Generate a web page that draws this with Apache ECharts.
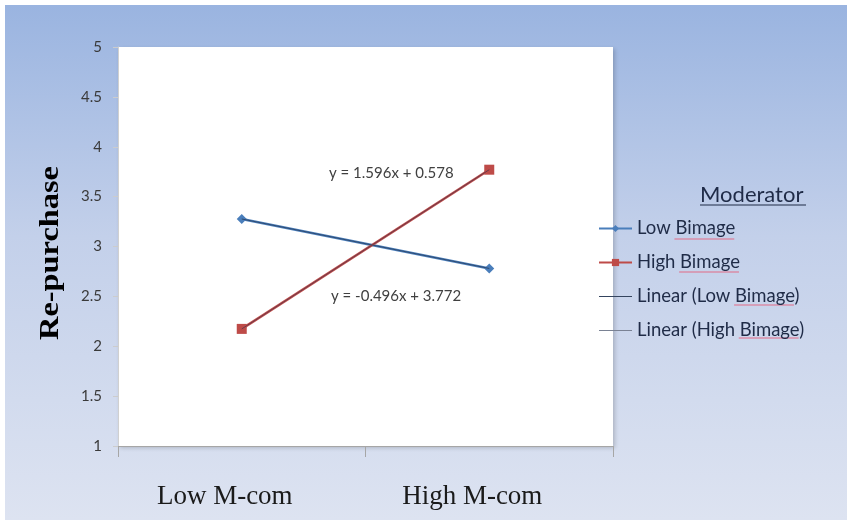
<!DOCTYPE html>
<html>
<head>
<meta charset="utf-8">
<script src="https://cdn.jsdelivr.net/npm/echarts@6/dist/echarts.min.js"></script>
<style>
  html, body { margin: 0; padding: 0; background: #fff; }
  #chart {
    width: 847px; height: 524px;
    background: linear-gradient(#9ab4e0, #c3d0ea 45%, #dde3f1) 5px 5px / 842px 515px no-repeat, #fff;
  }
</style>
</head>
<body>
<div id="chart"></div>
<script>
// Interaction plot: Re-purchase by M-com level, moderated by Bimage
const categories = ['Low M-com', 'High M-com'];
const lowBimage = [3.276, 2.78];
const highBimage = [2.174, 3.77];
// Fitted linear trends (slope, intercept) and their endpoint values
const lowTrendCoef = [-0.496, 3.772];
const highTrendCoef = [1.596, 0.578];
const lowTrend = [3.276, 2.78];
const highTrend = [2.174, 3.77];
const yTicks = [1, 1.5, 2, 2.5, 3, 3.5, 4, 4.5, 5];
const legendNames = ['Low Bimage', 'High Bimage', 'Linear (Low Bimage)', 'Linear (High Bimage)'];

function eqText(c) {
  const sign = c[1] < 0 ? ' - ' : ' + ';
  return 'y = ' + c[0] + 'x' + sign + Math.abs(c[1]);
}

const chart = echarts.init(document.getElementById('chart'));
const labelFont = 'Lato, "Open Sans", sans-serif';
const serifFont = '"Liberation Serif", "Times New Roman", serif';

// Measure legend text so the spell-check style underlines sit under "Bimage"
const ctx = document.createElement('canvas').getContext('2d');
ctx.font = '18.5px Lato';
const legendLeft = 598, legendTextX = 636, legendTop = 219, rowStep = 33;
const squiggles = legendNames.map((name, i) => {
  const idx = name.indexOf('Bimage');
  const x1 = legendTextX + ctx.measureText(name.slice(0, idx)).width;
  const x2 = x1 + ctx.measureText('Bimage').width;
  const y = legendTop + i * rowStep + 20;
  return {
    type: 'line', silent: true,
    shape: { x1: x1, y1: y, x2: x2, y2: y },
    style: { stroke: '#e26a86', lineWidth: 1.2 }
  };
});

chart.setOption({
  animation: false,
  grid: {
    left: 118, right: 234, top: 47, bottom: 78,
    show: true, backgroundColor: '#ffffff', borderWidth: 0,
    shadowColor: 'rgba(0,0,0,0.18)', shadowBlur: 4, shadowOffsetX: 2, shadowOffsetY: 2
  },
  xAxis: {
    type: 'category',
    data: categories,
    boundaryGap: true,
    axisLine: { lineStyle: { color: '#a6a6a6', width: 1 } },
    axisTick: { show: true, length: 11, lineStyle: { color: '#a6a6a6' } },
    axisLabel: {
      margin: 37, color: '#1a1a1a', fontSize: 27, fontFamily: serifFont,
      padding: [0, 34, 0, 0]
    }
  },
  yAxis: {
    type: 'value',
    min: 1, max: 5, interval: 0.5,
    splitLine: { show: false },
    axisLine: { show: true, lineStyle: { color: '#d0d0d0' } },
    axisTick: { show: true, length: 5, lineStyle: { color: '#cccccc' } },
    axisLabel: {
      margin: 16, color: '#3a3a3a', fontSize: 15, fontFamily: labelFont,
      formatter: v => (yTicks.indexOf(v) >= 0 ? String(v) : '')
    }
  },
  legend: {
    orient: 'vertical',
    left: legendLeft, top: legendTop, padding: 0,
    itemWidth: 33, itemHeight: 9, itemGap: rowStep - 18,
    textStyle: { color: '#1f2b47', fontSize: 18.5, fontFamily: labelFont, lineHeight: 18 },
    data: [
      { name: legendNames[0] },
      { name: legendNames[1] },
      { name: legendNames[2], itemStyle: { opacity: 0 }, lineStyle: { color: '#34445e', width: 1 } },
      { name: legendNames[3], itemStyle: { opacity: 0 }, lineStyle: { color: '#7a8294', width: 1 } }
    ]
  },
  series: [
    {
      name: 'Low Bimage', type: 'line', data: lowBimage,
      symbol: 'diamond', symbolSize: 10,
      lineStyle: { color: '#4a7ebb', width: 2.5 },
      itemStyle: { color: '#4a7ebb' }, z: 3
    },
    {
      name: 'High Bimage', type: 'line', data: highBimage,
      symbol: 'rect', symbolSize: 10,
      lineStyle: { color: '#be4b48', width: 2.5 },
      itemStyle: { color: '#be4b48' }, z: 3
    },
    {
      name: 'Linear (Low Bimage)', type: 'line', data: lowTrend,
      symbol: 'none', lineStyle: { color: '#2f4a70', width: 1 },
      itemStyle: { color: '#2f4a70' }, z: 4
    },
    {
      name: 'Linear (High Bimage)', type: 'line', data: highTrend,
      symbol: 'none', lineStyle: { color: '#6b3a4a', width: 1 },
      itemStyle: { color: '#7d8799' }, z: 4
    }
  ],
  graphic: [
    {
      type: 'text', x: 51, y: 253, rotation: Math.PI / 2, scaleX: 1.2,
      style: {
        text: 'Re-purchase', fontSize: 27, fontWeight: 'bold', fontFamily: serifFont,
        fill: '#000', align: 'center', verticalAlign: 'middle'
      }
    },
    {
      type: 'text', left: 700, top: 184,
      style: { text: 'Moderator', fontSize: 22, fontFamily: labelFont, fill: '#1f2b47' }
    },
    {
      type: 'line', shape: { x1: 700, y1: 205, x2: 806, y2: 205 },
      style: { stroke: '#1f2b47', lineWidth: 1.2 }
    },
    {
      type: 'text', left: 329, top: 166,
      style: { text: eqText(highTrendCoef), fontSize: 15, fontFamily: labelFont, fill: '#404040' }
    },
    {
      type: 'text', left: 331, top: 289,
      style: { text: eqText(lowTrendCoef), fontSize: 15, fontFamily: labelFont, fill: '#404040' }
    }
  ].concat(squiggles)
});
</script>
</body>
</html>
